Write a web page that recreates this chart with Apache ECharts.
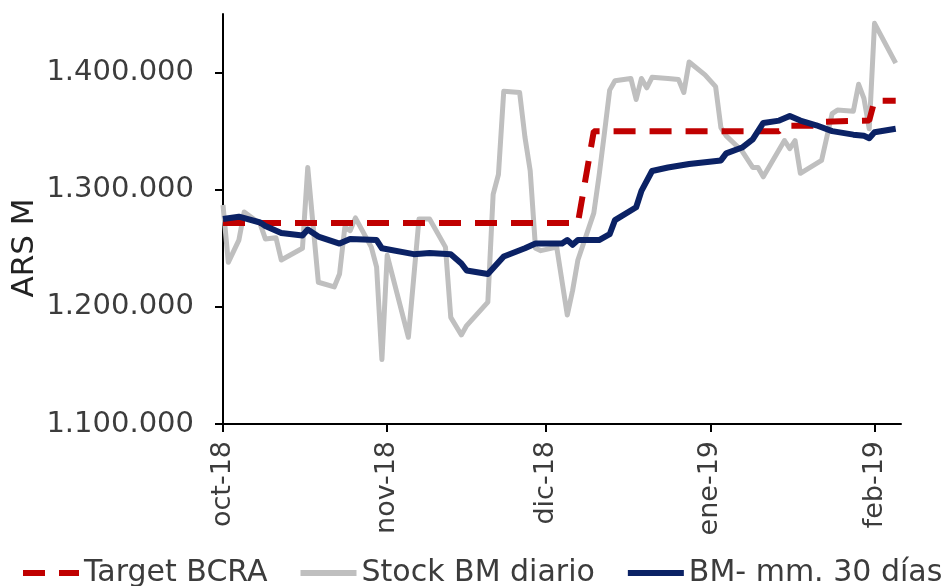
<!DOCTYPE html>
<html>
<head>
<meta charset="utf-8">
<script src="https://cdn.jsdelivr.net/npm/echarts@6/dist/echarts.min.js"></script>
<style>
  html, body { margin: 0; padding: 0; background: #ffffff; }
  #chart { width: 943px; height: 586px; }
</style>
</head>
<body>
<div id="chart"></div>
<script>
// Calendar span of the horizontal axis (one category per day)
const primerDia = '2018-10-01';
const ultimoDia = '2019-02-06';
const meses = ['ene', 'feb', 'mar', 'abr', 'may', 'jun', 'jul', 'ago', 'sep', 'oct', 'nov', 'dic'];

// Target BCRA (ARS M)
const targetFechas = ['2018-10-01', '2018-12-07', '2018-12-10', '2019-01-14', '2019-01-15', '2019-01-21',
  '2019-01-22', '2019-01-31', '2019-02-01', '2019-02-05'];
const targetValores = [1271500, 1271500, 1350000, 1350000, 1354500, 1354500,
  1358000, 1359000, 1376000, 1376000];

// Stock BM diario (ARS M)
const stockFechas = ['2018-10-01', '2018-10-02', '2018-10-04', '2018-10-05', '2018-10-08', '2018-10-09',
  '2018-10-11', '2018-10-12', '2018-10-16', '2018-10-17', '2018-10-19', '2018-10-22', '2018-10-23',
  '2018-10-24', '2018-10-25', '2018-10-26', '2018-10-29', '2018-10-30', '2018-10-31', '2018-11-01',
  '2018-11-05', '2018-11-07', '2018-11-09', '2018-11-12', '2018-11-13', '2018-11-15', '2018-11-16',
  '2018-11-20', '2018-11-21', '2018-11-22', '2018-11-23', '2018-11-26', '2018-11-27', '2018-11-28',
  '2018-11-29', '2018-11-30', '2018-12-03', '2018-12-05', '2018-12-06', '2018-12-07', '2018-12-10',
  '2018-12-11', '2018-12-12', '2018-12-13', '2018-12-14', '2018-12-17', '2018-12-18', '2018-12-19',
  '2018-12-20', '2018-12-21', '2018-12-24', '2018-12-26', '2018-12-27', '2018-12-28', '2018-12-31',
  '2019-01-02', '2019-01-03', '2019-01-04', '2019-01-07', '2019-01-09', '2019-01-10', '2019-01-11',
  '2019-01-15', '2019-01-16', '2019-01-17', '2019-01-18', '2019-01-22', '2019-01-24', '2019-01-25',
  '2019-01-28', '2019-01-29', '2019-01-30', '2019-01-31', '2019-02-01', '2019-02-05'];
const stockValores = [1287000, 1238000, 1257000, 1281000, 1271000, 1258000,
  1259000, 1240000, 1250000, 1319000, 1221000, 1217000, 1228000,
  1268000, 1265000, 1276000, 1251000, 1234000, 1155000, 1244000,
  1174000, 1275000, 1275000, 1251000, 1191000, 1176000, 1184000,
  1204000, 1296000, 1313000, 1384000, 1383000, 1345000, 1316000,
  1250000, 1248000, 1251000, 1193000, 1214000, 1240000, 1280000,
  1312000, 1348000, 1385000, 1393000, 1395000, 1377000, 1395000,
  1387000, 1396000, 1395000, 1394000, 1383000, 1409000, 1398000,
  1388000, 1353000, 1346000, 1333000, 1319000, 1319000, 1311000,
  1342000, 1335000, 1342000, 1314000, 1325000, 1365000, 1368000,
  1367000, 1390000, 1378000, 1352000, 1442000, 1408000];

// BM- media móvil 30 días (ARS M)
const mediaFechas = ['2018-10-01', '2018-10-04', '2018-10-08', '2018-10-09', '2018-10-12', '2018-10-16',
  '2018-10-17', '2018-10-19', '2018-10-23', '2018-10-25', '2018-10-30', '2018-10-31', '2018-11-06',
  '2018-11-09', '2018-11-13', '2018-11-15', '2018-11-16', '2018-11-20', '2018-11-23', '2018-11-27',
  '2018-11-29', '2018-12-04', '2018-12-05', '2018-12-06', '2018-12-07', '2018-12-11', '2018-12-13',
  '2018-12-14', '2018-12-18', '2018-12-19', '2018-12-21', '2018-12-24', '2018-12-28', '2019-01-03',
  '2019-01-04', '2019-01-07', '2019-01-09', '2019-01-11', '2019-01-14', '2019-01-16', '2019-01-18',
  '2019-01-21', '2019-01-24', '2019-01-28', '2019-01-30', '2019-01-31', '2019-02-01', '2019-02-05'];
const mediaValores = [1275000, 1277000, 1272000, 1269000, 1263000, 1261000,
  1266000, 1260000, 1254000, 1258000, 1257000, 1250000, 1245000,
  1246000, 1245000, 1237000, 1231000, 1228000, 1243000, 1250000,
  1254000, 1254000, 1257000, 1253000, 1257000, 1257000, 1262000,
  1274000, 1285000, 1299000, 1316000, 1319000, 1322000, 1325000,
  1331000, 1336000, 1343000, 1357000, 1359000, 1363000, 1359000,
  1355000, 1350000, 1347000, 1346000, 1344000, 1349000, 1352000];

// Vertical axis ticks
const yTicks = [1100000, 1200000, 1300000, 1400000];

// Build the daily categories
const dias = [];
for (let t = Date.parse(primerDia + 'T00:00:00Z'); t <= Date.parse(ultimoDia + 'T00:00:00Z'); t += 86400000) {
  dias.push(new Date(t).toISOString().slice(0, 10));
}
const indice = {};
dias.forEach((d, i) => { indice[d] = i; });

function serieDiaria(fechas, valores) {
  const out = new Array(dias.length).fill(null);
  fechas.forEach((f, i) => { out[indice[f]] = valores[i]; });
  return out;
}

const esInicioMes = (i, v) => v.slice(8, 10) === '01';
const etiquetaMes = v => meses[parseInt(v.slice(5, 7), 10) - 1] + '-' + v.slice(2, 4);
const miles = v => String(v).replace(/\B(?=(\d{3})+(?!\d))/g, '.');

const fuente = 'DejaVu Sans';
const gris = '#BFBFBF', rojo = '#C00000', azul = '#0B2265', texto = '#3c3c3c';

// Legend glyphs: two short dashes for the target, a solid bar for the others
const iconoGuiones = 'path://M0,0H22V6H0Z M36,0H56V6H36Z';
const iconoBarra = 'path://M0,0H56V6H0Z';

const chart = echarts.init(document.getElementById('chart'), null, { renderer: 'canvas' });
chart.setOption({
  animation: false,
  backgroundColor: '#ffffff',
  grid: { left: 223, right: 42, top: 14, bottom: 162 },
  legend: {
    data: [
      { name: 'Target BCRA', icon: iconoGuiones },
      { name: 'Stock BM diario', icon: iconoBarra },
      { name: 'BM- mm. 30 días', icon: iconoBarra }
    ],
    left: 23,
    top: 558,
    width: 920,
    padding: 0,
    itemWidth: 56,
    itemHeight: 6,
    itemGap: 33,
    itemStyle: { borderWidth: 0 },
    textStyle: { fontFamily: fuente, fontSize: 30, color: texto }
  },
  xAxis: {
    type: 'category',
    boundaryGap: false,
    data: dias,
    axisLine: { lineStyle: { color: '#000000', width: 2 } },
    axisTick: { show: true, interval: esInicioMes, length: 8, lineStyle: { color: '#000000', width: 2 } },
    axisLabel: {
      interval: esInicioMes,
      rotate: 90,
      margin: 17,
      formatter: etiquetaMes,
      fontFamily: fuente,
      fontSize: 27,
      color: texto
    },
    splitLine: { show: false }
  },
  yAxis: {
    type: 'value',
    min: 1100000,
    max: 1450000,
    interval: 100000,
    axisLine: { show: true, lineStyle: { color: '#000000', width: 2 } },
    axisTick: { show: true, length: 8, customValues: yTicks, lineStyle: { color: '#000000', width: 2 } },
    axisLabel: {
      customValues: yTicks,
      margin: 29,
      formatter: miles,
      fontFamily: fuente,
      fontSize: 29,
      color: texto
    },
    splitLine: { show: false }
  },
  graphic: [{
    type: 'text',
    x: 25,
    y: 248,
    rotation: Math.PI / 2,
    style: {
      text: 'ARS M',
      fontFamily: fuente,
      fontSize: 31,
      fill: '#222222',
      align: 'center',
      verticalAlign: 'middle'
    }
  }],
  series: [
    {
      name: 'Stock BM diario',
      type: 'line',
      data: serieDiaria(stockFechas, stockValores),
      connectNulls: true,
      symbol: 'none',
      z: 2,
      itemStyle: { color: gris },
      lineStyle: { color: gris, width: 5, join: 'round' }
    },
    {
      name: 'Target BCRA',
      type: 'line',
      data: serieDiaria(targetFechas, targetValores),
      connectNulls: true,
      symbol: 'none',
      z: 3,
      itemStyle: { color: rojo },
      lineStyle: { color: rojo, width: 6, type: [22, 14] }
    },
    {
      name: 'BM- mm. 30 días',
      type: 'line',
      data: serieDiaria(mediaFechas, mediaValores),
      connectNulls: true,
      symbol: 'none',
      z: 4,
      itemStyle: { color: azul },
      lineStyle: { color: azul, width: 6, join: 'round' }
    }
  ]
});
</script>
</body>
</html>
